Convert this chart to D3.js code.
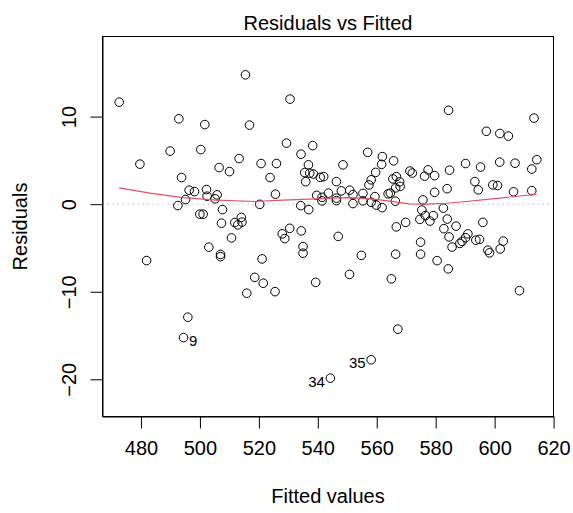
<!DOCTYPE html>
<html>
<head>
<meta charset="utf-8">
<script src="https://cdn.jsdelivr.net/npm/d3@7"></script>
<style>
  body { margin: 0; background: #fff; }
  svg { display: block; }
  text { font-family: "Liberation Sans", Arial, Helvetica, sans-serif; fill: #000; }
</style>
</head>
<body>
<svg id="chart" width="573" height="513"></svg>
<script>
// Fitted values and residuals of the linear model, one entry per observation
const fitted = [
  515.46, 472.61, 492.85, 501.66, 516.82, 489.90, 500.31, 479.63, 494.44, 513.29,
  506.51, 510.04, 493.77, 496.34, 498.17, 502.24, 495.12, 502.44, 505.83, 505.16,
  492.51, 507.66, 499.97, 501.09, 507.32, 514.04, 511.83, 514.27, 512.85, 510.71,
  503.02, 506.99, 506.99, 544.27, 558.10, 481.90, 518.61, 515.90, 495.90,
  530.58, 529.36, 538.27, 534.31, 556.92, 561.90, 520.75, 525.97, 536.82, 548.54,
  561.66, 565.73, 535.56, 537.26, 538.51, 523.80, 540.82, 542.00, 559.63, 535.90,
  546.31, 558.10, 557.36, 565.49, 566.65, 567.77, 566.41, 567.93, 525.63, 539.63,
  541.43, 543.60, 541.43, 546.31, 546.31, 548.00, 550.82, 551.93, 555.32, 555.32,
  551.93, 559.39, 558.10, 559.87, 561.83, 563.87, 564.61, 566.31, 520.31, 534.21,
  536.92,
  527.93, 528.78, 530.48, 534.38, 546.92, 534.99, 534.99, 521.09, 554.78, 566.41,
  566.65, 521.49, 525.49, 539.29, 550.75, 564.95, 567.16,
  584.38, 613.36, 597.19, 601.77, 604.65, 590.14, 595.22, 601.73, 606.92, 614.31,
  612.61, 584.71, 577.43, 579.63, 576.24, 571.26, 572.07, 593.29, 599.39, 600.99,
  583.87, 594.44, 579.63, 606.41, 612.61, 575.66, 582.61, 575.29, 576.48, 579.19,
  574.65, 578.04, 583.93, 569.80, 586.92, 596.00, 582.78, 590.92,
  584.54, 585.56, 588.21, 588.95, 590.14, 593.63, 594.88, 597.70, 598.27, 601.90,
  602.92, 608.44, 574.88, 574.88, 580.48, 584.27
];
const residuals = [
  14.77, 11.65, 9.75, 9.09, 9.03, 6.06, 6.24, 4.57, -15.24, 5.21,
  4.18, 3.72, 3.04, 1.60, 1.44, 1.67, 0.53, 0.91, 1.06, 0.61,
  -0.16, -0.62, -1.14, -1.14, -2.17, -1.51, -2.10, -2.05, -2.36, -3.85,
  -4.91, -5.74, -5.99, -19.87, -17.77, -6.44, -8.36, -10.17, -12.91,
  12.00, 6.97, 6.69, 5.71, 5.92, 5.43, 4.64, 4.64, 4.49, 4.49,
  4.55, 4.95, 3.61, 3.54, 3.44, 3.04, 3.06, 3.15, 3.63, 2.57,
  2.58, 2.78, 2.20, 2.89, 3.15, 2.55, 1.86, 2.03, 1.14, 1.01,
  0.78, 1.26, 0.38, 0.69, 0.41, 1.52, 1.60, 1.09, 1.23, 0.38,
  0.07, 0.86, 0.21, -0.11, -0.39, 1.18, 1.26, 0.34, -0.02, -0.17,
  -0.62,
  -3.39, -3.93, -2.76, -3.05, -3.68, -4.84, -5.60, -6.25, -5.85, -5.71,
  -2.59, -9.03, -9.99, -8.93, -8.02, -8.53, -14.28,
  10.72, 9.83, 8.32, 8.07, 7.78, 4.64, 4.24, 4.80, 4.68, 5.08,
  4.01, 3.88, 3.92, 3.26, 3.20, 3.78, 3.55, 2.58, 2.20, 2.13,
  1.77, 1.63, 1.35, 1.41, 1.54, 0.49, -0.45, -0.67, -1.30, -1.30,
  -1.74, -1.93, -1.70, -2.08, -2.51, -2.08, -2.80, -3.39,
  -3.74, -4.90, -4.48, -4.25, -3.83, -4.11, -4.02, -5.26, -5.56, -5.11,
  -4.22, -9.88, -4.34, -5.71, -6.45, -7.39
];

// Smoothed trend of the residuals along the fitted values
const smoothFitted = [472.61, 483.02, 494.31, 505.63, 518.61, 528.21, 539.53, 549.70, 554.20,
  559.87, 566.65, 571.15, 576.81, 583.59, 590.37, 601.66, 614.31];
const smoothResid = [1.86, 1.26, 0.75, 0.46, 0.30, 0.46, 0.61, 0.75, 0.69,
  0.55, 0.23, 0.03, 0.00, 0.11, 0.30, 0.69, 1.14];

const xTicks = [480, 500, 520, 540, 560, 580, 600, 620];
const yTicks = [-20, -10, 0, 10];

const titleText = "Residuals vs Fitted";
const xTitle = "Fitted values";
const yTitle = "Residuals";
const idCount = 3;

// ---- layout ----
const box = { left: 102.5, right: 553.5, top: 36.5, bottom: 416.5 };
const fontSize = 20;

function extendRange(ext, f) {
  const r = ext[1] - ext[0];
  return [ext[0] - f * r, ext[1] + f * r];
}

const xDomain = extendRange(d3.extent(fitted), 0.04);
const yDomain = extendRange(extendRange(d3.extent(residuals), 0.08), 0.04);

const x = d3.scaleLinear().domain(xDomain).range([box.left, box.right]);
const y = d3.scaleLinear().domain(yDomain).range([box.bottom, box.top]);

const svg = d3.select("#chart");
svg.append("rect").attr("width", 573).attr("height", 513).attr("fill", "#fff");

// zero reference line
svg.append("line")
  .attr("x1", box.left).attr("x2", box.right)
  .attr("y1", y(0)).attr("y2", y(0))
  .attr("stroke", "#bebebe").attr("stroke-width", 1)
  .attr("stroke-dasharray", "1.5,3.5");

// points
const pts = fitted.map((f, i) => ({ f, r: residuals[i], id: i + 1 }));
svg.append("g")
  .selectAll("circle")
  .data(pts)
  .join("circle")
  .attr("cx", d => x(d.f))
  .attr("cy", d => y(d.r))
  .attr("r", 4.3)
  .attr("fill", "none")
  .attr("stroke", "#000")
  .attr("stroke-width", 1);

// smoother
const smooth = smoothFitted.map((f, i) => [f, smoothResid[i]]);
svg.append("path")
  .datum(smooth)
  .attr("d", d3.line().x(d => x(d[0])).y(d => y(d[1])))
  .attr("fill", "none")
  .attr("stroke", "#DF536B")
  .attr("stroke-width", 1.1);

// label the most extreme residuals with their observation number
const fMid = (d3.min(fitted) + d3.max(fitted)) / 2;
const extreme = pts.slice().sort((a, b) => Math.abs(b.r) - Math.abs(a.r)).slice(0, idCount);
svg.append("g")
  .selectAll("text")
  .data(extreme)
  .join("text")
  .attr("x", d => x(d.f) + (d.f > fMid ? -5.5 : 5.5))
  .attr("y", d => y(d.r) + 8.6)
  .attr("text-anchor", d => d.f > fMid ? "end" : "start")
  .attr("font-size", fontSize * 0.75)
  .text(d => d.id);

// frame
svg.append("rect")
  .attr("x", box.left).attr("y", box.top)
  .attr("width", box.right - box.left).attr("height", box.bottom - box.top)
  .attr("fill", "none").attr("stroke", "#000").attr("stroke-width", 1);

// axes
const xAxis = svg.append("g")
  .attr("transform", `translate(0,${box.bottom})`)
  .call(d3.axisBottom(x).tickValues(xTicks).tickSize(12).tickSizeOuter(0).tickFormat(d3.format("d")));
xAxis.selectAll("text")
  .attr("y", 38.5).attr("dy", null)
  .attr("font-size", fontSize);

const yAxis = svg.append("g")
  .attr("transform", `translate(${box.left},0)`)
  .call(d3.axisLeft(y).tickValues(yTicks).tickSize(12).tickSizeOuter(0)
    .tickFormat(d => d < 0 ? "\u2212" + Math.abs(d) : String(d)));
yAxis.selectAll("text")
  .attr("transform", "rotate(-90)")
  .attr("x", 0).attr("y", -26.5).attr("dy", null)
  .attr("text-anchor", "middle")
  .attr("font-size", fontSize);

svg.selectAll(".domain, .tick line").attr("stroke", "#000").attr("stroke-width", 1);
svg.selectAll(".tick text").attr("fill", "#000").attr("font-family", null);

// titles
svg.append("text")
  .attr("x", (box.left + box.right) / 2).attr("y", 30)
  .attr("text-anchor", "middle").attr("font-size", fontSize)
  .text(titleText);

svg.append("text")
  .attr("x", (box.left + box.right) / 2).attr("y", 503)
  .attr("text-anchor", "middle").attr("font-size", fontSize)
  .text(xTitle);

svg.append("text")
  .attr("transform", `translate(27,${(box.top + box.bottom) / 2}) rotate(-90)`)
  .attr("text-anchor", "middle").attr("font-size", fontSize)
  .text(yTitle);
</script>
</body>
</html>
